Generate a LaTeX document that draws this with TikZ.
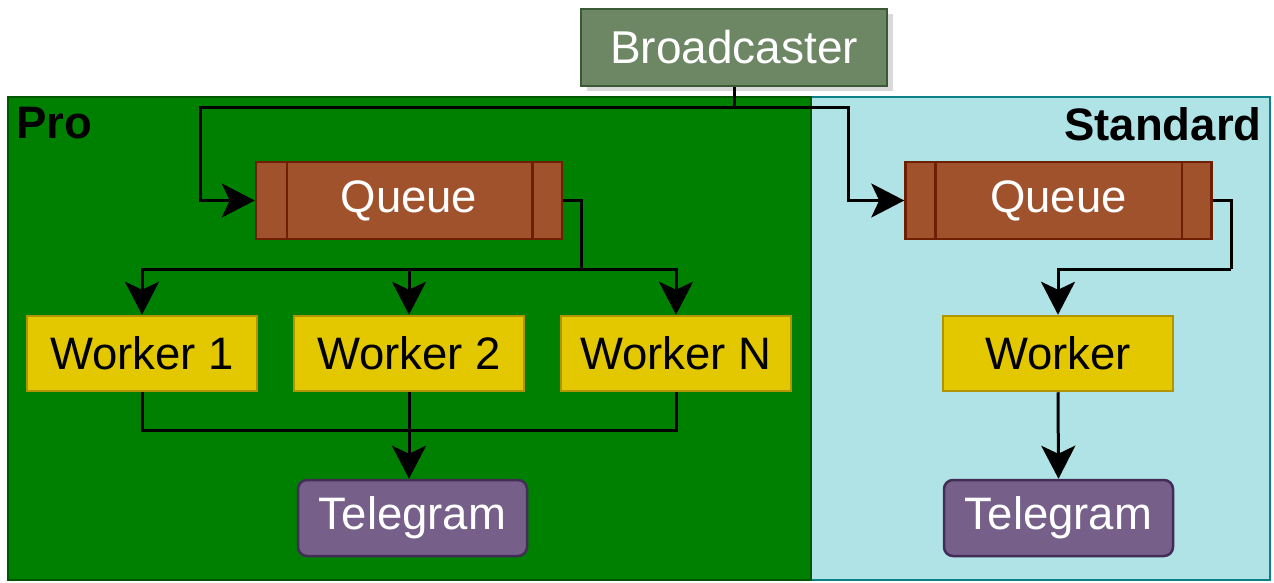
\documentclass[tikz,border=0pt]{standalone}
\usepackage{fontspec}
\setmainfont{Liberation Sans}
\usetikzlibrary{arrows.meta,shadows}
\definecolor{bcfill}{HTML}{6D8764}
\definecolor{bcline}{HTML}{3A5A36}
\definecolor{profill}{HTML}{008000}
\definecolor{proline}{HTML}{005700}
\definecolor{stdfill}{HTML}{B0E3E6}
\definecolor{stdline}{HTML}{0E8088}
\definecolor{qfill}{HTML}{A0522D}
\definecolor{qline}{HTML}{6D1F00}
\definecolor{wfill}{HTML}{E3C800}
\definecolor{wline}{HTML}{B09500}
\definecolor{tfill}{HTML}{76608A}
\definecolor{tline}{HTML}{432D57}
\newcommand{\arw}{-{Stealth[length=33pt,width=34pt,inset=8pt]}}
\newcommand{\boxfont}{\fontsize{45.5}{52}\selectfont}

\begin{document}
\begin{tikzpicture}[x=1pt,y=-1pt,line width=3pt,
  box/.style={draw,line width=2.5pt,minimum width=230pt,minimum height=75pt,inner sep=0pt,font=\boxfont},
  queue/.style={box,fill=qfill,draw=qline,text=white,minimum width=306pt,minimum height=77pt},
  worker/.style={box,fill=wfill,draw=wline},
  tg/.style={box,fill=tfill,draw=tline,text=white,rounded corners=9pt,minimum width=229pt,minimum height=76pt},
  region/.style={font=\bfseries\boxfont,inner sep=0pt}]
\useasboundingbox (0,0) rectangle (1274,583);
%regions
\filldraw[fill=stdfill,draw=stdline,line width=2pt] (811,97) rectangle (1270,580);
\filldraw[fill=profill,draw=proline,line width=2pt] (8,97) rectangle (811,580);
\draw[proline,line width=1pt,dashed] (811,97) -- (811,580);
\node[region,anchor=north west] (pro) at (15,106) {Pro};
\node[region,anchor=north east] (std) at (1263,106) {Standard};
%broadcaster
\node[box,fill=bcfill,draw=bcline,text=white,minimum width=306pt,minimum height=77pt,
  font=\fontsize{46}{52}\selectfont,
  drop shadow={shadow xshift=6pt,shadow yshift=-5pt,fill=black!25,opacity=.6}] (bc) at (734,47.5) {Broadcaster};
%pro
\node[queue] (pq) at (409,200.5) {Queue};
\draw[qline,line width=2.5pt] ([xshift=32pt]pq.north west) -- ([xshift=32pt]pq.south west);
\draw[qline,line width=2.5pt] ([xshift=-31pt]pq.north east) -- ([xshift=-31pt]pq.south east);
\node[worker] (w1) at (142,353.5) {Worker 1};
\node[worker] (w2) at (409,353.5) {Worker 2};
\node[worker] (wn) at (676,353.5) {Worker N};
\node[tg] (tp) at (412.5,518) {Telegram};
\coordinate (pfork) at (581,269);
\coordinate (pjoin) at (409,430);
\draw[\arw] (bc.south) |- (200,108) |- (pq.west);
\draw (pq.east) -| (pfork);
\draw[\arw] (pfork) -| (w1.north);
\draw[\arw] (pfork) -| (w2.north);
\draw[\arw] (pfork) -| (wn.north);
\draw (w1.south) |- (pjoin);
\draw (wn.south) |- (pjoin);
\draw[\arw] (w2.south) -- (w2.south |- tp.north);
%standard
\node[queue] (sq) at (1058.5,200.5) {Queue};
\draw[qline,line width=2.5pt] ([xshift=31pt]sq.north west) -- ([xshift=31pt]sq.south west);
\draw[qline,line width=2.5pt] ([xshift=-31pt]sq.north east) -- ([xshift=-31pt]sq.south east);
\node[worker] (sw) at (1058,353.5) {Worker};
\node[tg] (st) at (1058.5,518) {Telegram};
\coordinate (sfork) at (1231,269);
\draw[\arw] (bc.south) |- (848,108) |- (sq.west);
\draw (sq.east) -| (sfork);
\draw[\arw] (sfork) -| (sw.north);
\draw[\arw] (sw.south) -- (st.north);
\end{tikzpicture}
\end{document}
